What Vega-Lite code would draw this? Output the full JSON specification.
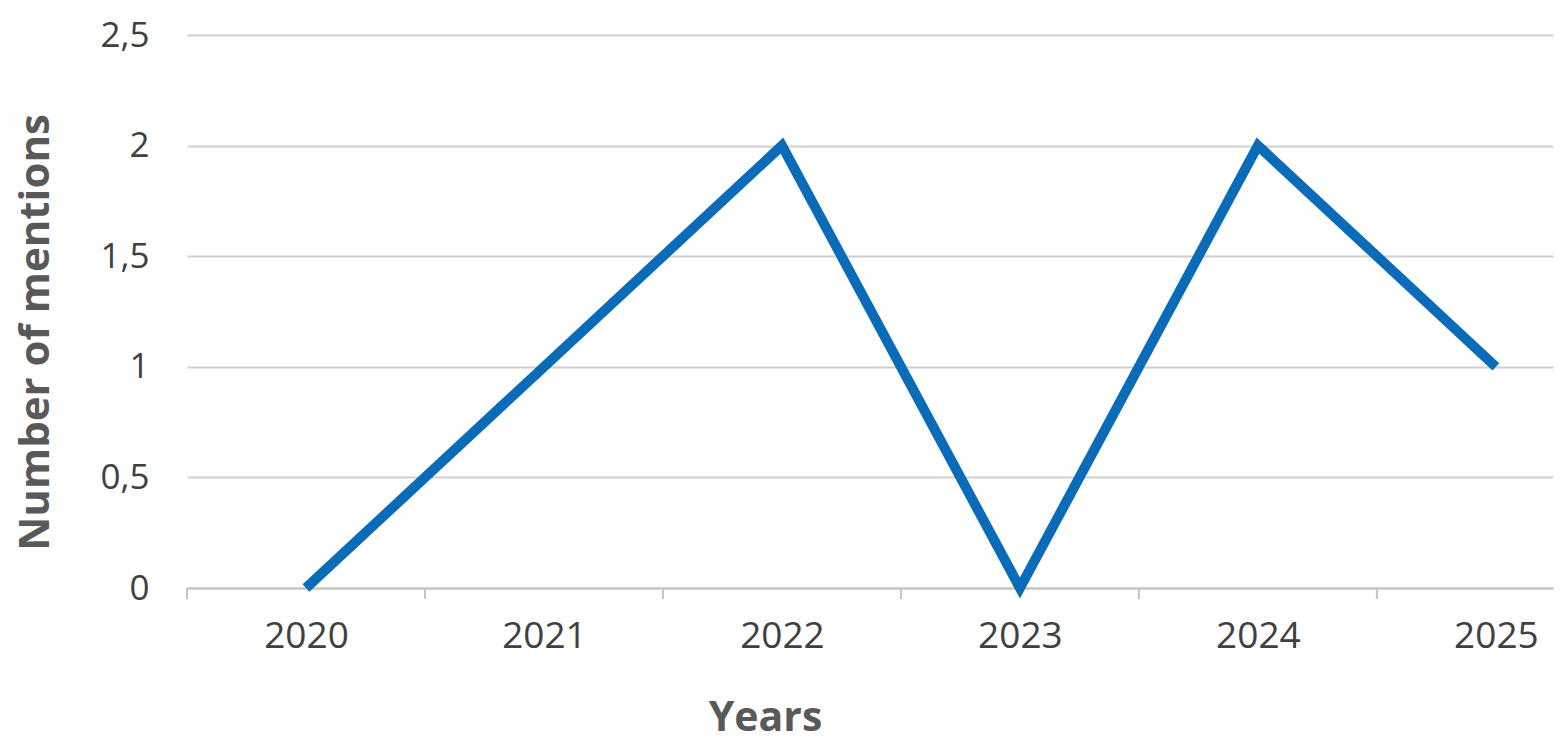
{
  "$schema": "https://vega.github.io/schema/vega-lite/v6.json",
  "autosize": "none",
  "padding": {"left": 187, "top": 35, "right": 13, "bottom": 153},
  "width": 1366,
  "height": 553,
  "background": "white",
  "config": {"view": {"stroke": null}, "font": "Open Sans"},
  "data": {"values": [
    {"year": 2020, "mentions": 0},
    {"year": 2021, "mentions": 1},
    {"year": 2022, "mentions": 2},
    {"year": 2023, "mentions": 0},
    {"year": 2024, "mentions": 2},
    {"year": 2025, "mentions": 1}
  ]},
  "layer": [
    {
      "mark": {"type": "line", "color": "#0a6cb9", "strokeWidth": 10, "strokeCap": "butt", "strokeJoin": "miter"},
      "encoding": {
        "x": {
          "field": "year", "type": "quantitative",
          "scale": {"domain": [2019.5, 2025.24], "nice": false, "zero": false},
          "axis": {
            "values": [2020, 2021, 2022, 2023, 2024, 2025],
            "format": "d",
            "title": "Years",
            "titleFont": "Open Sans", "titleFontSize": 41, "titleFontWeight": "bold", "titleColor": "#595959",
            "titlePadding": 44, "titleX": 578, "titleAnchor": "start", "titleAlign": "center",
            "labelFont": "Open Sans", "labelFontSize": 37, "labelColor": "#404040", "labelPadding": 30,
            "ticks": false, "grid": false,
            "domainColor": "#c4c4c4", "domainWidth": 2
          }
        },
        "y": {
          "field": "mentions", "type": "quantitative",
          "scale": {"domain": [0, 2.5], "nice": false},
          "axis": {
            "values": [0, 0.5, 1, 1.5, 2, 2.5],
            "labelExpr": "replace(toString(datum.value), '.', ',')",
            "title": "Number of mentions",
            "titleFont": "Open Sans", "titleFontSize": 42, "titleFontWeight": "bold", "titleColor": "#595959",
            "titlePadding": 42, "titleY": 297, "titleAlign": "center",
            "labelFont": "Open Sans", "labelFontSize": 35, "labelColor": "#404040", "labelPadding": 38,
            "ticks": false, "domain": false,
            "grid": true, "gridColor": "#d0d0d0", "gridWidth": 2
          }
        }
      }
    },
    {
      "mark": {"type": "rule", "color": "#c4c4c4", "strokeWidth": 2},
      "data": {"values": [{"year": 2019.5}, {"year": 2020.5}, {"year": 2021.5}, {"year": 2022.5}, {"year": 2023.5}, {"year": 2024.5}]},
      "encoding": {
        "x": {"field": "year", "type": "quantitative"},
        "y": {"datum": 0, "type": "quantitative"},
        "y2": {"datum": -0.05}
      }
    }
  ]
}
